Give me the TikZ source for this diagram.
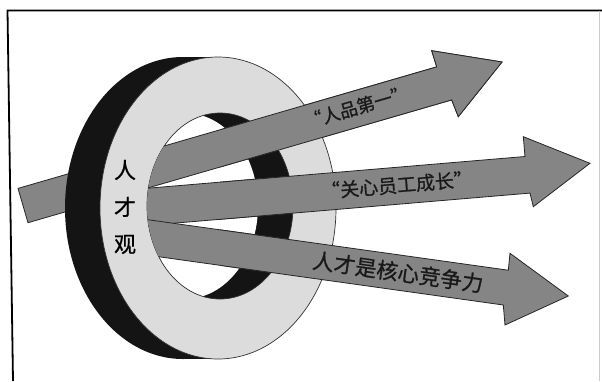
\documentclass[tikz,border=0pt]{standalone}
\usepackage{fontspec}
\newfontfamily\cjk[FakeBold=0.8]{Noto Sans CJK SC}
\definecolor{arrowgray}{HTML}{858585}
\definecolor{facegray}{HTML}{DCDCDC}
\definecolor{ringblack}{HTML}{141414}
\tikzset{
  arrowpart/.style={fill=arrowgray, draw=black!85, line width=0.8pt, line join=miter},
  ringface/.style={fill=facegray, draw=black!80, line width=0.7pt},
  lbl/.style={font=\cjk\fontsize{#1}{#1}\selectfont, text=black!90, inner sep=0pt},
  framestyle/.style={draw=black, line width=1.8pt}
}
\newcommand\pathArrowA{(18,188.4) -- (436.7,66.9) -- (431.7,50.7) -- (502,62) -- (458.3,116.7) -- (451.7,99.9) -- (28,222.7) -- cycle}
\newcommand\pathArrowB{(110,191.4) -- (525,156.5) -- (523.3,136.7) -- (590,163.3) -- (533.3,206.7) -- (530,193.1) -- (110,228.6) -- cycle}
\newcommand\pathArrowC{(110,214.4) -- (508.3,270.2) -- (510,253.3) -- (568.3,296) -- (505,325) -- (503.3,305) -- (110,249.9) -- cycle}
\begin{document}
\begin{tikzpicture}[x=1pt,y=-1pt]
\useasboundingbox (0,0) rectangle (602,381);
\fill[white] (0,0) rectangle (602,381);
% frame
\draw[framestyle] (602,10.5) -- (7.5,10.5) -- (13,381);
\draw[black!20, line width=0.8pt] (599.5,10.5) -- (599.5,381);
% tail of the first arrow (behind the ring)
\path[arrowpart] \pathArrowA;
% ring: back side
\fill[ringblack] (183,208) ellipse [x radius=118, y radius=151];
\fill[ringblack] (183,57) rectangle (218,359);
% ring: front face
\path[ringface] (218,208) ellipse [x radius=118, y radius=151];
% hole
\fill[ringblack] (220,206) ellipse [x radius=73, y radius=93];
\begin{scope}
  \clip (220,206) ellipse [x radius=73, y radius=93];
  \fill[white] (185,206) ellipse [x radius=73, y radius=93];
\end{scope}
\draw[black!80, line width=0.7pt] (220,206) ellipse [x radius=73, y radius=93];
% arrows seen through the hole
\begin{scope}
  \clip (220,206) ellipse [x radius=73, y radius=93];
  \path[arrowpart] \pathArrowA;
  \path[arrowpart] \pathArrowB;
  \path[arrowpart] \pathArrowC;
\end{scope}
% arrows in front of the ring
\begin{scope}
  \clip (220,0) rectangle (602,381);
  \path[arrowpart] \pathArrowA;
  \path[arrowpart] \pathArrowB;
  \path[arrowpart] \pathArrowC;
\end{scope}
% labels
\node[font=\cjk\fontsize{22}{37}\selectfont, align=center, inner sep=0pt] (rcg) at (125,207) {人\\才\\观};
\node[lbl=18, rotate=16.2] (t1) at (357,107) {“人品第一”};
\node[lbl=19, rotate=4.8] (t2) at (397,185) {“关心员工成长”};
\node[lbl=21.5, rotate=-8] (t3) at (398,272) {人才是核心竞争力};
\end{tikzpicture}
\end{document}
